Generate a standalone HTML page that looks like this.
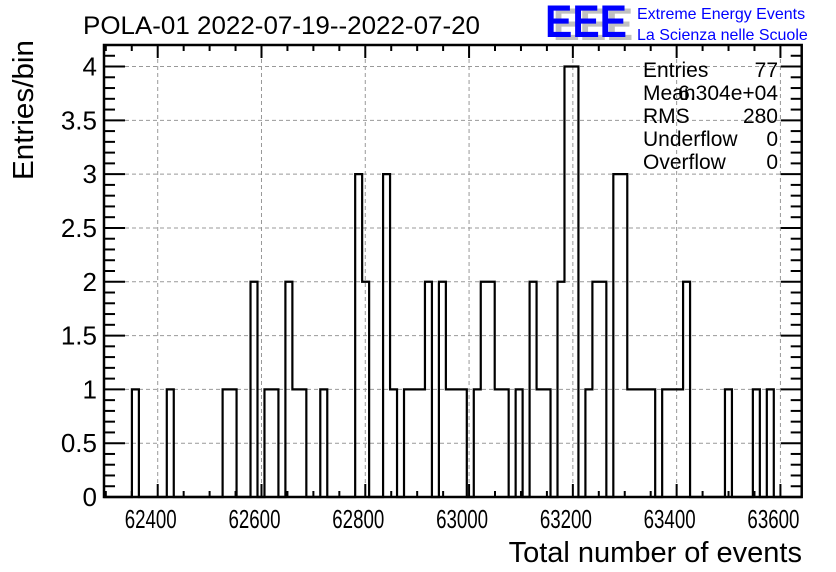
<!DOCTYPE html>
<html><head><meta charset="utf-8"><style>
html,body{margin:0;padding:0;background:#fff;}
svg{display:block;font-family:"Liberation Sans",Arial,sans-serif;}
</style></head><body>
<svg id="chart" width="836" height="572" viewBox="0 0 836 572">
<rect width="836" height="572" fill="#fff"/>
<text x="83" y="34" font-size="25" textLength="397" lengthAdjust="spacingAndGlyphs">POLA-01 2022-07-19--2022-07-20</text>
<g>
<text x="553" y="40" font-size="45" font-weight="bold" fill="#c0c0c0" textLength="80" lengthAdjust="spacingAndGlyphs">EEE</text>
<text x="545" y="37" font-size="45" font-weight="bold" fill="#0000ff" textLength="82" lengthAdjust="spacingAndGlyphs">EEE</text>
<text x="637" y="19" font-size="16" fill="#0000ff">Extreme Energy Events</text>
<text x="637" y="40" font-size="16" fill="#0000ff">La Scienza nelle Scuole</text>
</g>
<g id="grid"></g>
<g id="axes"></g>
<path id="hist" fill="none" stroke="#000" stroke-width="2.2"/>
<g font-size="21">
<text x="643" y="77">Entries</text>
<text x="778" y="77" text-anchor="end">77</text>
<text x="643" y="100">Mean</text>
<text x="778" y="100" text-anchor="end">6.304e+04</text>
<text x="643" y="123">RMS</text>
<text x="778" y="123" text-anchor="end">280</text>
<text x="643" y="146">Underflow</text>
<text x="778" y="146" text-anchor="end">0</text>
<text x="643" y="169">Overflow</text>
<text x="778" y="169" text-anchor="end">0</text>
</g>
<text x="802" y="562" font-size="29" text-anchor="end">Total number of events</text>
<text transform="translate(33,180) rotate(-90)" font-size="29" textLength="140" lengthAdjust="spacingAndGlyphs">Entries/bin</text>
</svg>
<script>
const xMin = 62296.5, xMax = 63641, nBins = 100;
const filledBins = [4,9,17,18,21,23,24,26,27,28,31,36,37,40,41,43,44,45,46,48,49,50,51,53,54,55,56,57,59,61,62,63,65,66,67,69,70,71,73,74,75,76,77,78,80,81,82,83,89,93,95];
const binCounts  = [1,1,1,1,2,1,1,2,1,1,1,3,2,3,1,1,1,1,2,2,1,1,1,1,2,2,1,1,1,2,1,1,2,4,4,1,2,2,3,3,1,1,1,1,1,1,1,2,1,1,1];
const xTicks = [62400,62600,62800,63000,63200,63400,63600];
const yTicks = [0,0.5,1,1.5,2,2.5,3,3.5,4];
const yTickLabels = ["0","0.5","1","1.5","2","2.5","3","3.5","4"];

const L=104,R=801.7,T=45,B=497;
const yMax=4.2;
const sx=v=>L+(v-xMin)/(xMax-xMin)*(R-L);
const sy=v=>B-v/yMax*(B-T);
const NS="http://www.w3.org/2000/svg";
function mk(tag,attrs,parent){const e=document.createElementNS(NS,tag);for(const k in attrs)e.setAttribute(k,attrs[k]);parent.appendChild(e);return e;}
const grid=document.getElementById('grid'), axes=document.getElementById('axes');

xTicks.forEach(v=>{
  const l=mk('line',{x1:sx(v),x2:sx(v),y1:T,y2:B,stroke:'#999','stroke-dasharray':'4,3','stroke-width':1},grid);
  
  
});
yTicks.forEach(v=>{
  if(v===0)return;
  const l=mk('line',{x1:L,x2:R,y1:sy(v),y2:sy(v),stroke:'#999','stroke-dasharray':'4,3','stroke-width':1},grid);
  
  
});

const counts=new Array(nBins).fill(0);
filledBins.forEach((b,i)=>{counts[b]=binCounts[i];});
const w=(xMax-xMin)/nBins;
let d=`M${L},${sy(0)}`;
for(let i=0;i<nBins;i++){
  const x0=sx(xMin+i*w),x1=sx(xMin+(i+1)*w),y=sy(counts[i]);
  d+=` L${x0},${y} L${x1},${y}`;
}
d+=` L${R},${sy(0)}`;
document.getElementById('hist').setAttribute('d',d);

const fr=mk('rect',{x:L,y:T,width:R-L,height:B-T,fill:'none',stroke:'#000','stroke-width':2.5},axes);



for(let v=62300;v<=63640;v+=50){
  if(sx(v)<L)continue;
  const major=(v%200===0);
  const len=major?13:6;
  const t1=mk('line',{x1:sx(v),x2:sx(v),y1:B,y2:B-len,stroke:'#000','stroke-width':2},axes);
  
  
  const t2=mk('line',{x1:sx(v),x2:sx(v),y1:T,y2:T+len,stroke:'#000','stroke-width':2},axes);
  
  
}
xTicks.forEach(v=>{
  const t=mk('text',{x:sx(v)-33,y:528,'font-size':26,textLength:52,lengthAdjust:'spacingAndGlyphs'},axes);
  t.textContent=String(v);
  
  
});
for(let k=0;k<=42;k++){
  const v=k*0.1;
  const major=(k%5===0);
  const len=major?21:11;
  const y=sy(v);
  const a=mk('line',{x1:L,x2:L+len,y1:y,y2:y,stroke:'#000','stroke-width':2},axes);
  
  
  const b=mk('line',{x1:R,x2:R-len,y1:y,y2:y,stroke:'#000','stroke-width':2},axes);
  
  
}
yTicks.forEach((v,i)=>{
  const t=mk('text',{x:97,y:sy(v)+9,'font-size':26,'text-anchor':'end'},axes);
  t.textContent=yTickLabels[i];
  
  
});
</script>
</body></html>
